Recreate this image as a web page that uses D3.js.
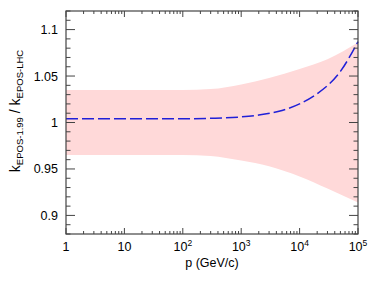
<!DOCTYPE html>
<html>
<head>
<meta charset="utf-8">
<script src="https://cdn.jsdelivr.net/npm/d3@7"></script>
<style>
  body { margin: 0; background: #fff; }
  svg { display: block; font-family: "Liberation Sans", Arial, sans-serif; }
</style>
</head>
<body>
<div id="chart"></div>
<script>
// band (uncertainty) and ratio curve
const bandP = [1, 100, 300, 1000, 3000, 10000, 30000, 100000];
const bandHi = [1.035, 1.035, 1.036, 1.041, 1.048, 1.0575, 1.068, 1.086];
const bandLo = [0.965, 0.965, 0.964, 0.959, 0.953, 0.942, 0.929, 0.914];

const lineP = [1, 10, 100, 300, 1000, 2000, 5000, 10000, 20000, 50000, 100000];
const lineK = [1.004, 1.004, 1.004, 1.0045, 1.006, 1.008, 1.013, 1.02, 1.031, 1.055, 1.087];

const yTicks = [0.9, 0.95, 1, 1.05, 1.1];
const xTicks = [1, 10, 100, 1000, 10000, 100000];

const width = 382, height = 284;
const margin = {left: 66, right: 24, top: 11, bottom: 50};

const svg = d3.select("#chart").append("svg")
  .attr("width", width).attr("height", height);

const x = d3.scaleLog().domain([1, 1e5]).range([margin.left, width - margin.right]);
const y = d3.scaleLinear().domain([0.88, 1.12]).range([height - margin.bottom, margin.top]);

const band = bandP.map((p, i) => ({p, hi: bandHi[i], lo: bandLo[i]}));
const line = lineP.map((p, i) => ({p, k: lineK[i]}));

svg.append("path")
  .datum(band)
  .attr("fill", "#ffd9d9")
  .attr("d", d3.area()
    .x(d => x(d.p))
    .y0(d => y(d.lo))
    .y1(d => y(d.hi))
    .curve(d3.curveMonotoneX));

svg.append("path")
  .datum(line)
  .attr("fill", "none")
  .attr("stroke", "#2020d8")
  .attr("stroke-width", 1.5)
  .attr("stroke-dasharray", "12,4")
  .attr("d", d3.line()
    .x(d => x(d.p))
    .y(d => y(d.k))
    .curve(d3.curveMonotoneX));

// frame with inward ticks on all sides
const x0 = x.range()[0], x1 = x.range()[1];
const y0 = y.range()[0], y1 = y.range()[1];
const axisColor = "#444";

// minor x ticks
const xMinor = [];
for (let e = 0; e < 5; e++) for (let m = 2; m <= 9; m++) xMinor.push(m * Math.pow(10, e));

const tickG = svg.append("g").attr("stroke", axisColor).attr("stroke-width", 1);

xTicks.forEach(v => {
  tickG.append("line").attr("x1", x(v)).attr("x2", x(v)).attr("y1", y0).attr("y2", y0 - 6);
  tickG.append("line").attr("x1", x(v)).attr("x2", x(v)).attr("y1", y1).attr("y2", y1 + 6);
});
xMinor.forEach(v => {
  tickG.append("line").attr("x1", x(v)).attr("x2", x(v)).attr("y1", y0).attr("y2", y0 - 3);
  tickG.append("line").attr("x1", x(v)).attr("x2", x(v)).attr("y1", y1).attr("y2", y1 + 3);
});

d3.range(0.88, 1.1201, 0.01).forEach(v => {
  const major = Math.abs(Math.round(v * 20) - v * 20) < 1e-6;
  const len = major ? 9 : 4.5;
  tickG.append("line").attr("x1", x0).attr("x2", x0 + len).attr("y1", y(v)).attr("y2", y(v));
  tickG.append("line").attr("x1", x1).attr("x2", x1 - len).attr("y1", y(v)).attr("y2", y(v));
});

svg.append("rect")
  .attr("x", x0).attr("y", y1)
  .attr("width", x1 - x0).attr("height", y0 - y1)
  .attr("fill", "none").attr("stroke", axisColor).attr("stroke-width", 1.2);

// y tick labels
svg.append("g").selectAll("text")
  .data(yTicks).join("text")
  .attr("x", x0 - 8).attr("y", d => y(d) + 4.5)
  .attr("text-anchor", "end")
  .attr("font-size", 12.5)
  .text(d => d3.format("")(d));

// x tick labels with superscripts
const xl = svg.append("g").attr("font-size", 12.5);
xTicks.forEach(v => {
  const e = Math.round(Math.log10(v));
  const t = xl.append("text").attr("x", x(v)).attr("y", 251).attr("text-anchor", "middle");
  if (e < 2) t.text(v);
  else {
    t.append("tspan").text("10");
    t.append("tspan").attr("font-size", 8.5).attr("dy", -5).text(e);
  }
});

svg.append("text")
  .attr("x", (x0 + x1) / 2).attr("y", 267)
  .attr("text-anchor", "middle").attr("font-size", 12.5)
  .text("p (GeV/c)");

// y title
const yt = svg.append("text")
  .attr("transform", "translate(20,111) rotate(-90)")
  .attr("text-anchor", "middle").attr("font-size", 14);
yt.append("tspan").text("k");
yt.append("tspan").attr("font-size", 9.5).attr("dy", 2.5).text("EPOS-1.99");
yt.append("tspan").attr("dy", -2.5).text(" / k");
yt.append("tspan").attr("font-size", 9.5).attr("dy", 2.5).text("EPOS-LHC");
</script>
</body>
</html>
